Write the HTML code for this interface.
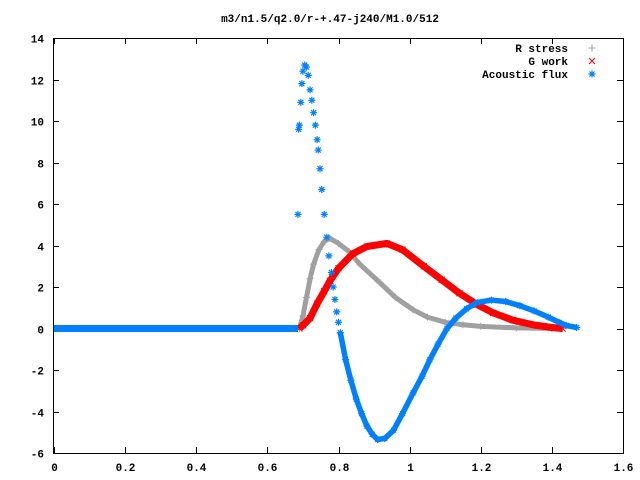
<!DOCTYPE html>
<html><head><meta charset="utf-8"><style>
html,body{margin:0;padding:0;background:#fff;}
svg{display:block;font-family:"Liberation Mono",monospace;font-size:11px;font-weight:bold;}
</style></head><body>
<svg id="chart" width="640" height="480" viewBox="0 0 640 480">
<rect x="0" y="0" width="640" height="480" fill="#fff"/>
<text x="330" y="22" text-anchor="middle">m3/n1.5/q2.0/r-+.47-j240/M1.0/512</text>
<g id="axes"></g>
<g id="plot"></g>
<g id="legend">
<text x="568" y="52" text-anchor="end">R stress</text>
<text x="568" y="65" text-anchor="end">G work</text>
<text x="568" y="78" text-anchor="end">Acoustic flux</text>
</g>
</svg>
<script>
const xTicks=[0,0.2,0.4,0.6,0.8,1,1.2,1.4,1.6];
const xTickLabels=["0","0.2","0.4","0.6","0.8","1","1.2","1.4","1.6"];
const yTicks=[-6,-4,-2,0,2,4,6,8,10,12,14];
const yTickLabels=["-6","-4","-2","0","2","4","6","8","10","12","14"];
const rX=[0.69,0.70,0.71,0.72,0.73,0.745,0.76,0.775,0.80,0.83,0.86,0.917,0.96,1.01,1.05,1.1,1.15,1.2,1.3,1.4,1.43];
const rY=[0,0.6,1.5,2.4,3.1,3.8,4.2,4.35,4.1,3.7,3.1,2.2,1.5,0.9,0.55,0.3,0.18,0.1,0.03,0.0,0];
const gX=[0.69,0.70,0.72,0.74,0.76,0.776,0.80,0.84,0.88,0.936,0.98,1.04,1.09,1.14,1.19,1.235,1.29,1.35,1.40,1.43];
const gY=[0,0.15,0.5,1.2,1.8,2.3,2.9,3.6,3.95,4.1,3.8,3.0,2.35,1.7,1.15,0.75,0.4,0.17,0.05,0];
const aSpikeX=[0.686,0.688,0.690,0.694,0.697,0.70,0.705,0.71,0.715,0.72,0.725,0.73,0.735,0.74,0.743,0.748,0.753,0.76,0.767,0.773,0.78,0.785,0.79,0.795,0.80];
const aSpikeY=[5.5,9.6,9.8,10.9,11.8,12.4,12.7,12.6,12.2,11.5,11.0,10.4,9.8,9.1,8.6,7.7,6.7,5.5,4.4,3.5,2.7,2.0,1.4,0.8,0.3];
const aX=[0.805,0.82,0.835,0.85,0.865,0.88,0.895,0.91,0.93,0.955,0.98,1.01,1.035,1.057,1.08,1.105,1.13,1.16,1.19,1.23,1.27,1.31,1.35,1.39,1.42,1.44,1.47];
const aY=[-0.2,-1.5,-2.5,-3.4,-4.1,-4.7,-5.1,-5.35,-5.3,-4.9,-4.1,-3.1,-2.3,-1.5,-0.75,0,0.5,0.95,1.25,1.37,1.3,1.1,0.85,0.55,0.3,0.15,0.05];
const flatX=[0,0.686];
const flatY=[0,0];

const X0=54,X1=623,Y0=328.5,YU=20.75;
function sx(v){return X0+v*(X1-X0)/1.6;}
function sy(v){return Y0-v*YU;}
const NS="http://www.w3.org/2000/svg";
function mk(tag,attrs,parent){const e=document.createElementNS(NS,tag);for(const k in attrs)e.setAttribute(k,attrs[k]);parent.appendChild(e);return e;}
const axes=document.getElementById('axes'),plot=document.getElementById('plot');
let fr=mk('rect',{x:53.5,y:38.5,width:570,height:415,fill:'none',stroke:'#000','stroke-width':1},axes);


xTicks.forEach((v,i)=>{const x=Math.round(sx(v))+0.5;
 let t=mk('path',{d:`M${x},453 v-6 M${x},38 v6`,stroke:'#000'},axes);
 
 
 let l=mk('text',{x:x,y:471,'text-anchor':'middle'},axes);l.textContent=xTickLabels[i];
 
 });
yTicks.forEach((v,i)=>{const y=Math.round(sy(v))+0.5;
 let t=mk('path',{d:`M53,${y} h6 M623,${y} h-6`,stroke:'#000'},axes);
 
 
 let l=mk('text',{x:44,y:y+4,'text-anchor':'end'},axes);l.textContent=yTickLabels[i];
 
 });
function pts(xs,ys){return xs.map((v,i)=>sx(v).toFixed(1)+','+sy(ys[i]).toFixed(1)).join(' ');}
function plus(g,x,y,c){mk('path',{d:`M${x-3.5},${y}h7M${x},${y-3.5}v7`,stroke:c,'stroke-width':1},g);}
function cross(g,x,y,c){mk('path',{d:`M${x-3},${y-3}l6,6M${x-3},${y+3}l6,-6`,stroke:c,'stroke-width':1},g);}
function star(g,x,y,c){mk('path',{d:`M${x-3.5},${y}h7M${x},${y-3.5}v7M${x-2.5},${y-2.5}l5,5M${x-2.5},${y+2.5}l5,-5`,stroke:c,'stroke-width':1.2},g);}
let gR=mk('g',{},plot);
mk('polyline',{points:pts(rX,rY),fill:'none',stroke:'#a0a0a0','stroke-width':5,'stroke-linejoin':'round'},gR);
rX.forEach((v,i)=>plus(gR,sx(v),sy(rY[i]),'#a0a0a0'));
let gG=mk('g',{},plot);
mk('polyline',{points:pts(gX,gY),fill:'none',stroke:'#ff0000','stroke-width':7,'stroke-linejoin':'round'},gG);
gX.forEach((v,i)=>cross(gG,sx(v),sy(gY[i]),'#ff0000'));
let gA=mk('g',{},plot);
mk('polyline',{points:pts(flatX,flatY),fill:'none',stroke:'#0080ff','stroke-width':7},gA);
mk('polyline',{points:pts(aX,aY),fill:'none',stroke:'#0080ff','stroke-width':5.5,'stroke-linejoin':'round'},gA);
aSpikeX.forEach((v,i)=>star(gA,sx(v),sy(aSpikeY[i]),'#0080ff'));
aX.forEach((v,i)=>star(gA,sx(v),sy(aY[i]),'#0080ff'));
const lg=document.getElementById('legend');
plus(lg,592,48,'#a0a0a0');cross(lg,592,61,'#ff0000');star(lg,592,74,'#0080ff');
</script>
</body></html>
